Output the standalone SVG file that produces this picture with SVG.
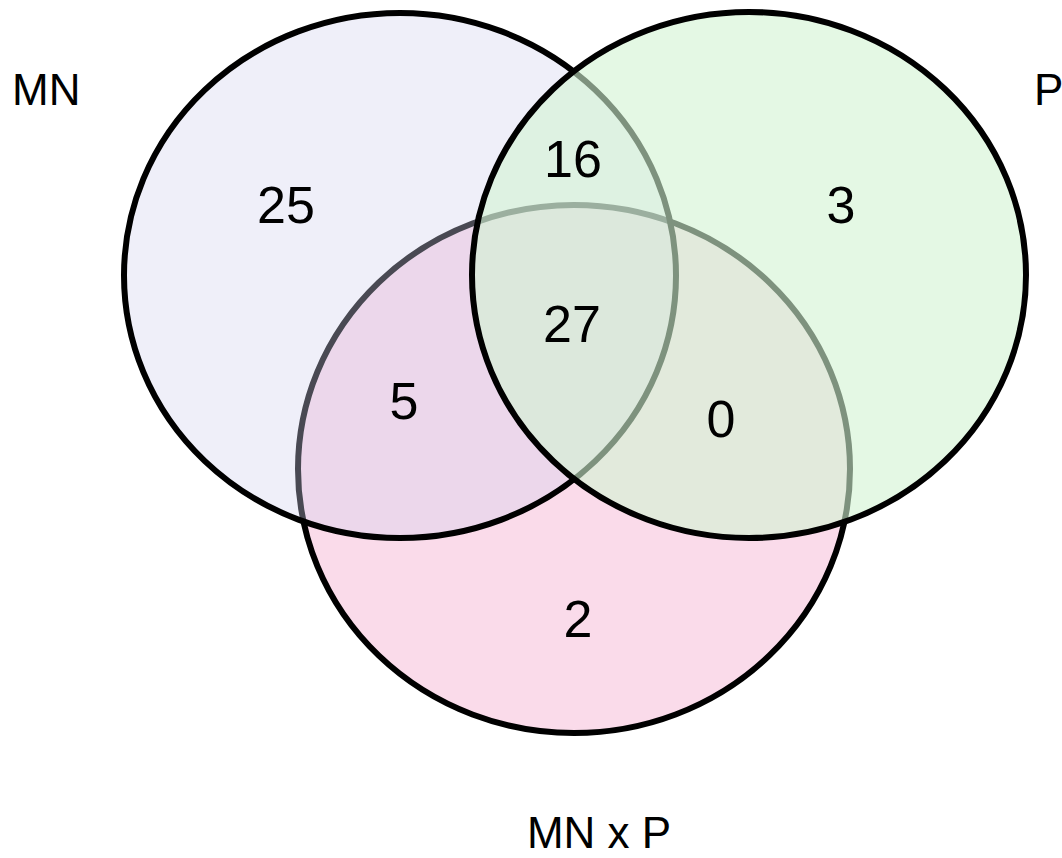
<svg xmlns="http://www.w3.org/2000/svg" width="1062" height="858" viewBox="0 0 1062 858">
<style>
.set{stroke:#000;stroke-width:6}
.num{font-family:"Liberation Sans","Open Sans",sans-serif;font-size:52px;fill:#000;text-anchor:middle}
.lbl{font-family:"Liberation Sans","Open Sans",sans-serif;font-size:44px;fill:#000}
</style>
<rect width="1062" height="858" fill="#fff"/>
<g id="set-mnxp">
<ellipse class="set" cx="574" cy="469" rx="276" ry="264" fill="#fadbea"/>
</g>
<g id="set-mn">
<ellipse class="set" cx="400" cy="275.5" rx="276" ry="262.5" fill="rgb(209,209,238)" fill-opacity="0.35"/>
</g>
<g id="set-p">
<ellipse class="set" cx="749" cy="275" rx="277" ry="263" fill="rgb(210,243,210)" fill-opacity="0.6"/>
</g>
<g id="connectors"></g>
<g id="counts">
<text class="num" x="286" y="223">25</text>
<text class="num" x="573" y="177">16</text>
<text class="num" x="841" y="223">3</text>
<text class="num" x="572" y="342">27</text>
<text class="num" x="404" y="419">5</text>
<text class="num" x="721" y="437">0</text>
<text class="num" x="578" y="637">2</text>
</g>
<g id="labels">
<text class="lbl" x="12" y="105">MN</text>
<text class="lbl" x="1034" y="105">P</text>
<text class="lbl" x="599" y="848" text-anchor="middle">MN x P</text>
</g>
</svg>
